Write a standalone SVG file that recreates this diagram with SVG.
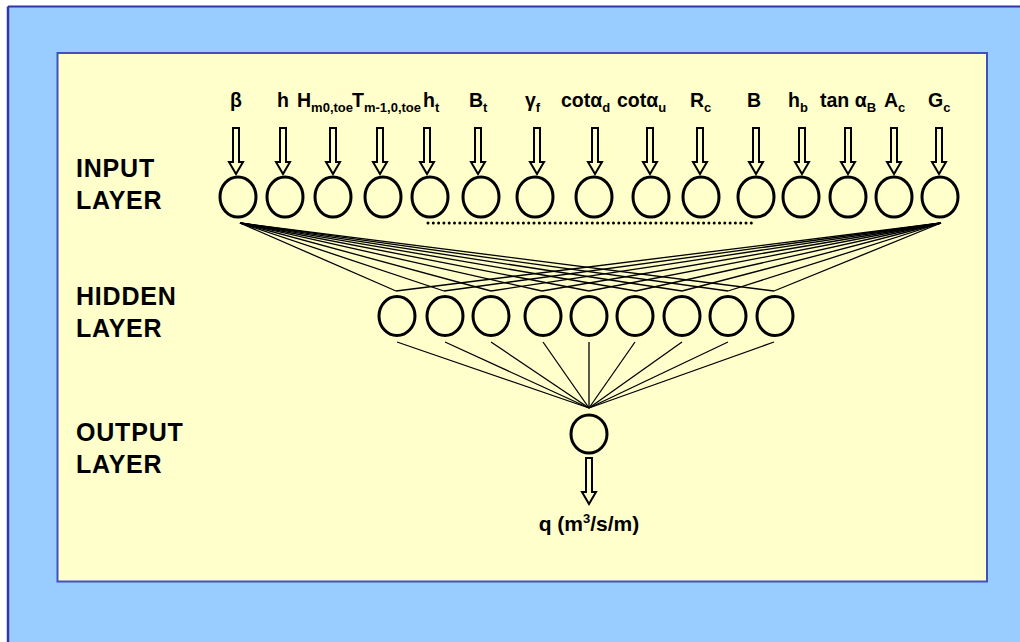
<svg xmlns="http://www.w3.org/2000/svg" xmlns:xlink="http://www.w3.org/1999/xlink" width="1020" height="642" viewBox="0 0 1020 642">
<style>
  text { font-family: "Liberation Sans", Arial, sans-serif; font-weight: bold; fill: #000; }
  .lbl { font-size: 19.5px; }
  .sub { font-size: 13px; }
  .qlbl { font-size: 21px; }
  .layer { font-size: 25px; letter-spacing: 0.8px; }
  .node { fill: none; stroke: #000; stroke-width: 3; }
  .arrow { fill: #FFFFCC; stroke: #000; stroke-width: 2; stroke-linejoin: miter; }
  .conn line { stroke: #000; stroke-width: 1.3; }
</style>
<defs>
  <path id="arr" class="arrow" d="M-3,0 L3,0 L3,34 L7,34 L0,46 L-7,34 L-3,34 Z"/>
</defs>
<rect x="0" y="0" width="1020" height="642" fill="#FFFFFF"/>
<rect x="8" y="6.5" width="1020" height="640" fill="#99CCFF"/>
<line x1="8" y1="6.5" x2="1020" y2="6.5" stroke="#3333AA" stroke-width="2"/>
<line x1="8" y1="6.5" x2="8" y2="642" stroke="#3333AA" stroke-width="2.5"/>
<rect x="57.5" y="53" width="929.5" height="528.5" fill="#FFFFCC" stroke="#4050C0" stroke-width="2"/>

<g id="layer-labels">
  <text class="layer" x="76" y="177">INPUT</text>
  <text class="layer" x="76" y="209">LAYER</text>
  <text class="layer" x="76" y="305">HIDDEN</text>
  <text class="layer" x="76" y="337">LAYER</text>
  <text class="layer" x="76" y="441">OUTPUT</text>
  <text class="layer" x="76" y="473">LAYER</text>
</g>

<g id="input-labels">
  <text class="lbl" x="236" y="107" text-anchor="middle">β</text>
  <text class="lbl" x="277" y="107">h</text>
  <text class="lbl" x="297" y="107">H<tspan class="sub" dy="5">m0,toe</tspan></text>
  <text class="lbl" x="352" y="107">T<tspan class="sub" dy="5">m-1,0,toe</tspan></text>
  <text class="lbl" x="423" y="107">h<tspan class="sub" dy="5">t</tspan></text>
  <text class="lbl" x="469" y="107">B<tspan class="sub" dy="5">t</tspan></text>
  <text class="lbl" x="525" y="107">γ<tspan class="sub" dy="5">f</tspan></text>
  <text class="lbl" x="561" y="107">cotα<tspan class="sub" dy="5">d</tspan></text>
  <text class="lbl" x="617" y="107">cotα<tspan class="sub" dy="5">u</tspan></text>
  <text class="lbl" x="690" y="107">R<tspan class="sub" dy="5">c</tspan></text>
  <text class="lbl" x="747" y="107">B</text>
  <text class="lbl" x="788" y="107">h<tspan class="sub" dy="5">b</tspan></text>
  <text class="lbl" x="820" y="107">tan α<tspan class="sub" dy="5">B</tspan></text>
  <text class="lbl" x="884" y="107">A<tspan class="sub" dy="5">c</tspan></text>
  <text class="lbl" x="928" y="107">G<tspan class="sub" dy="5">c</tspan></text>
</g>

<g id="input-arrows">
  <use xlink:href="#arr" href="#arr" transform="translate(236,128)"/>
  <use xlink:href="#arr" href="#arr" transform="translate(283,128)"/>
  <use xlink:href="#arr" href="#arr" transform="translate(333,128)"/>
  <use xlink:href="#arr" href="#arr" transform="translate(380,128)"/>
  <use xlink:href="#arr" href="#arr" transform="translate(427,128)"/>
  <use xlink:href="#arr" href="#arr" transform="translate(478,128)"/>
  <use xlink:href="#arr" href="#arr" transform="translate(537,128)"/>
  <use xlink:href="#arr" href="#arr" transform="translate(595,128)"/>
  <use xlink:href="#arr" href="#arr" transform="translate(650,128)"/>
  <use xlink:href="#arr" href="#arr" transform="translate(700,128)"/>
  <use xlink:href="#arr" href="#arr" transform="translate(756,128)"/>
  <use xlink:href="#arr" href="#arr" transform="translate(802,128)"/>
  <use xlink:href="#arr" href="#arr" transform="translate(848,128)"/>
  <use xlink:href="#arr" href="#arr" transform="translate(894,128)"/>
  <use xlink:href="#arr" href="#arr" transform="translate(939,128)"/>
</g>

<g id="input-nodes">
  <g id="in1"><ellipse class="node" cx="238" cy="197" rx="18" ry="20"/></g>
  <g id="in2"><ellipse class="node" cx="285" cy="197" rx="18" ry="20"/></g>
  <g id="in3"><ellipse class="node" cx="333" cy="197" rx="18" ry="20"/></g>
  <g id="in4"><ellipse class="node" cx="383" cy="197" rx="18" ry="20"/></g>
  <g id="in5"><ellipse class="node" cx="430" cy="197" rx="18" ry="20"/></g>
  <g id="in6"><ellipse class="node" cx="481" cy="197" rx="18" ry="20"/></g>
  <g id="in7"><ellipse class="node" cx="535" cy="197" rx="18" ry="20"/></g>
  <g id="in8"><ellipse class="node" cx="594" cy="197" rx="18" ry="20"/></g>
  <g id="in9"><ellipse class="node" cx="651" cy="197" rx="18" ry="20"/></g>
  <g id="in10"><ellipse class="node" cx="701" cy="197" rx="18" ry="20"/></g>
  <g id="in11"><ellipse class="node" cx="756" cy="197" rx="18" ry="20"/></g>
  <g id="in12"><ellipse class="node" cx="801" cy="197" rx="18" ry="20"/></g>
  <g id="in13"><ellipse class="node" cx="848" cy="197" rx="18" ry="20"/></g>
  <g id="in14"><ellipse class="node" cx="894" cy="197" rx="18" ry="20"/></g>
  <g id="in15"><ellipse class="node" cx="940" cy="197" rx="18" ry="20"/></g>
</g>

<line id="ellipsis" x1="428" y1="223" x2="753" y2="223" stroke="#000" stroke-width="3" stroke-linecap="round" stroke-dasharray="0 5.3"/>

<g id="connectors" class="conn">
  <line x1="240" y1="223" x2="396" y2="291"/>
  <line x1="240" y1="223" x2="444" y2="291"/>
  <line x1="240" y1="223" x2="491" y2="291"/>
  <line x1="240" y1="223" x2="542" y2="291"/>
  <line x1="240" y1="223" x2="589" y2="291"/>
  <line x1="240" y1="223" x2="636" y2="291"/>
  <line x1="240" y1="223" x2="682" y2="291"/>
  <line x1="240" y1="223" x2="728" y2="291"/>
  <line x1="240" y1="223" x2="774" y2="291"/>
  <line x1="941" y1="223" x2="396" y2="291"/>
  <line x1="941" y1="223" x2="444" y2="291"/>
  <line x1="941" y1="223" x2="491" y2="291"/>
  <line x1="941" y1="223" x2="542" y2="291"/>
  <line x1="941" y1="223" x2="589" y2="291"/>
  <line x1="941" y1="223" x2="636" y2="291"/>
  <line x1="941" y1="223" x2="682" y2="291"/>
  <line x1="941" y1="223" x2="728" y2="291"/>
  <line x1="941" y1="223" x2="774" y2="291"/>
  <line x1="397" y1="342" x2="589" y2="408"/>
  <line x1="445" y1="342" x2="589" y2="408"/>
  <line x1="491" y1="342" x2="589" y2="408"/>
  <line x1="543" y1="342" x2="589" y2="408"/>
  <line x1="589" y1="342" x2="589" y2="408"/>
  <line x1="635" y1="342" x2="589" y2="408"/>
  <line x1="682" y1="342" x2="589" y2="408"/>
  <line x1="728" y1="342" x2="589" y2="408"/>
  <line x1="774" y1="342" x2="589" y2="408"/>
</g>

<g id="hidden-nodes">
  <g id="h1"><ellipse class="node" cx="397" cy="316" rx="18" ry="19.5"/></g>
  <g id="h2"><ellipse class="node" cx="445" cy="316" rx="18" ry="19.5"/></g>
  <g id="h3"><ellipse class="node" cx="491" cy="316" rx="18" ry="19.5"/></g>
  <g id="h4"><ellipse class="node" cx="543" cy="316" rx="18" ry="19.5"/></g>
  <g id="h5"><ellipse class="node" cx="589" cy="316" rx="18" ry="19.5"/></g>
  <g id="h6"><ellipse class="node" cx="635" cy="316" rx="18" ry="19.5"/></g>
  <g id="h7"><ellipse class="node" cx="682" cy="316" rx="18" ry="19.5"/></g>
  <g id="h8"><ellipse class="node" cx="728" cy="316" rx="18" ry="19.5"/></g>
  <g id="h9"><ellipse class="node" cx="775" cy="316" rx="18" ry="19.5"/></g>
</g>

<g id="output-node">
  <ellipse class="node" cx="589" cy="434" rx="18" ry="19"/>
  <use xlink:href="#arr" href="#arr" transform="translate(589,458)"/>
  <text class="qlbl" x="589" y="531" text-anchor="middle">q (m<tspan font-size="13px" dy="-8">3</tspan><tspan dy="8">/s/m)</tspan></text>
</g>
</svg>
